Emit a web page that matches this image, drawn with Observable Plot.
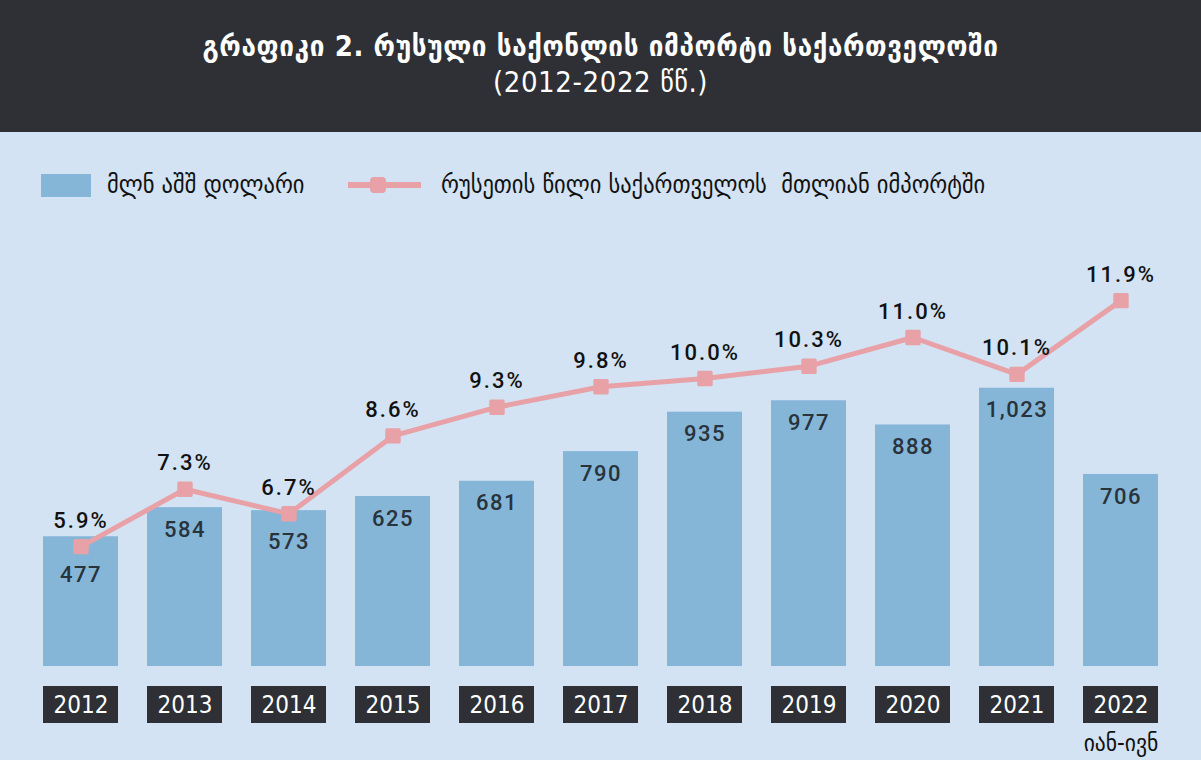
<!DOCTYPE html>
<html><head><meta charset="utf-8">
<script src="https://cdn.jsdelivr.net/npm/d3@7"></script>
<script src="https://cdn.jsdelivr.net/npm/@observablehq/plot@0.6"></script>
<style>
body{margin:0;background:#d3e3f3;}
#wrap{position:relative;width:1201px;height:760px;background:#d3e3f3;overflow:hidden;font-family:"DejaVu Sans Condensed","DejaVu Sans",sans-serif;}
#header{position:absolute;left:0;top:0;width:1201px;height:132px;background:#2e3035;color:#fff;text-align:center;}
#title{position:absolute;left:0;right:0;top:31px;font-size:29px;font-weight:bold;line-height:30px;letter-spacing:0.6px;}
#subtitle{position:absolute;left:0;right:0;top:67px;font-size:29px;line-height:30px;font-weight:300;letter-spacing:0.6px;}
.leg{position:absolute;top:170px;font-size:25px;color:#111;line-height:30px;}
.sw{position:absolute;}
.layer{position:absolute;left:0;top:132px;}
</style></head>
<body><div id="wrap">
<div id="header"><div id="title">გრაფიკი 2. რუსული საქონლის იმპორტი საქართველოში</div><div id="subtitle">(2012-2022 წწ.)</div></div>
<div class="sw" style="left:41px;top:174px;width:50px;height:23px;background:#85b6d8"></div>
<div class="leg" style="left:107px">მლნ აშშ დოლარი</div>
<div class="sw" style="left:348px;top:182px;width:73px;height:6px;background:#e8a1a6"></div>
<div class="sw" style="left:370px;top:177px;width:16px;height:16px;border-radius:4px;background:#e8a1a6"></div>
<div class="leg" style="left:441px">რუსეთის წილი საქართველოს&nbsp; მთლიან იმპორტში</div>
<div id="bars" class="layer"></div>
<div id="line" class="layer"></div>
<div id="boxes" class="layer"></div>
</div>
<script>
const years = ["2012","2013","2014","2015","2016","2017","2018","2019","2020","2021","2022"];
const importsMln = [477, 584, 573, 625, 681, 790, 935, 977, 888, 1023, 706];
const sharePct = [5.9, 7.3, 6.7, 8.6, 9.3, 9.8, 10.0, 10.3, 11.0, 10.1, 11.9];
const periodNote = {"2022": "იან-ივნ"};

const rows = years.map((y, i) => ({year: y, value: importsMln[i], share: sharePct[i]}));

const W = 1201, H = 628;
const xOpts = {type: "band", domain: years, paddingInner: 0.282, paddingOuter: 0, axis: null};
const common = {width: W, height: H, marginLeft: 41, marginRight: 41, style: {background: "transparent", overflow: "visible"}};

const barY = {domain: [0, 1000], axis: null};
const barMargins = {marginTop: 262, marginBottom: 94};
const lineY = {domain: [5, 12], axis: null};
const lineMargins = {marginTop: 164, marginBottom: 177};

// scales to keep value labels clear of the line markers
const bys = Plot.scale({y: {...barY, range: [H - barMargins.marginBottom, barMargins.marginTop]}});
const lys = Plot.scale({y: {...lineY, range: [H - lineMargins.marginBottom, lineMargins.marginTop]}});
const labelDy = d => {
  const top = bys.apply(d.value);
  const mk = lys.apply(d.share);
  return Math.max(top + 22, mk + 28) - top;
};

const barsPlot = Plot.plot({
  ...common, ...barMargins,
  x: xOpts, y: barY,
  marks: [
    Plot.barY(rows, {x: "year", y: "value", fill: "#85b6d8"}),
    ...rows.map(d => Plot.text([d], {x: "year", y: "value", text: v => d3.format(",")(v.value),
      dy: labelDy(d), fill: "#28333c", fontSize: 22, fontFamily: "Roboto", fontWeight: 500}))
  ]
});
barsPlot.style.letterSpacing = "1.5px";
document.getElementById("bars").append(barsPlot);

const linePlot = Plot.plot({
  ...common, ...lineMargins,
  x: xOpts, y: lineY,
  marks: [
    Plot.line(rows, {x: "year", y: "share", stroke: "#e8a1a6", strokeWidth: 5}),
    Plot.dot(rows, {x: "year", y: "share", symbol: "square", r: 7, fill: "#e8a1a6", stroke: "#e8a1a6", strokeWidth: 3, strokeLinejoin: "round"}),
    Plot.text(rows, {x: "year", y: "share", text: d => d.share.toFixed(1) + "%", dy: -26,
      fill: "#111", fontSize: 22, fontFamily: "Roboto", fontWeight: 500})
  ]
});
linePlot.style.letterSpacing = "2px";
document.getElementById("line").append(linePlot);

const boxPlot = Plot.plot({
  ...common, marginTop: 554, marginBottom: 37,
  x: xOpts,
  marks: [
    Plot.cell(rows, {x: "year", fill: "#2e3035"}),
    Plot.text(rows, {x: "year", text: "year", frameAnchor: "middle", fill: "#fff", fontSize: 24,
      fontFamily: "DejaVu Sans Condensed"}),
    Plot.text(rows.filter(d => periodNote[d.year]), {x: "year", text: d => periodNote[d.year], frameAnchor: "bottom",
      dy: 20, lineAnchor: "middle", fill: "#111", fontSize: 24, fontFamily: "DejaVu Sans Condensed"})
  ]
});
document.getElementById("boxes").append(boxPlot);
</script>
</body></html>
